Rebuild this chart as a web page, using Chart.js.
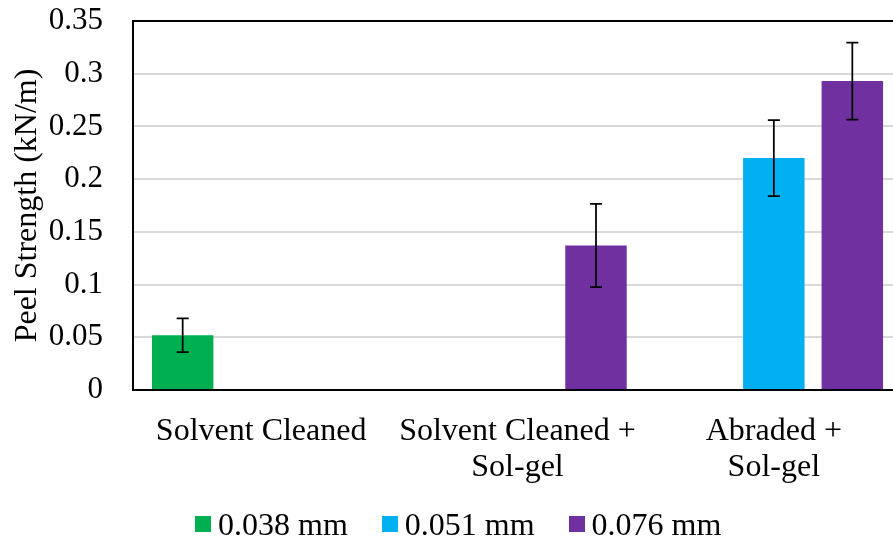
<!DOCTYPE html>
<html>
<head>
<meta charset="utf-8">
<script src="https://cdn.jsdelivr.net/npm/chart.js@4/dist/chart.umd.min.js"></script>
<style>
  html, body { margin: 0; padding: 0; background: #fff; overflow: hidden; width: 893px; height: 540px; }
  #wrap { position: absolute; left: 0; top: 0; width: 904px; height: 540px; }
  #legend {
    position: absolute; left: 195px; top: 508px; display: flex;
    font-family: "Liberation Serif", "Times New Roman", serif;
    font-size: 32px; line-height: 32px; color: #000; white-space: nowrap;
  }
  #legend .item { display: flex; align-items: center; margin-right: 34px; }
  #legend .sw { width: 16px; height: 16px; margin-right: 7px; }
</style>
</head>
<body>
<div id="wrap"><canvas id="c" width="904" height="540"></canvas></div>
<div id="legend"></div>
<script>
// Surface treatments (multi-line category labels)
const categories = [["Solvent Cleaned"], ["Solvent Cleaned +", "Sol-gel"], ["Abraded +", "Sol-gel"]];

// Adhesive thickness series
const seriesNames = ["0.038 mm", "0.051 mm", "0.076 mm"];
const seriesColors = ["#00B050", "#00B0F0", "#7030A0"];

// Mean peel strength (kN/m)
const peel038 = [0.052, null, null];
const peel051 = [null, null, 0.220];
const peel076 = [null, 0.137, 0.293];

// Standard deviation (kN/m)
const err038 = [0.016, null, null];
const err051 = [null, null, 0.036];
const err076 = [null, 0.0395, 0.0365];

// Value axis
const yTickValues = [0, 0.05, 0.1, 0.15, 0.2, 0.25, 0.3, 0.35];
const yTickLabels = ["0", "0.05", "0.1", "0.15", "0.2", "0.25", "0.3", "0.35"];

const FONT = '"Liberation Serif", "Times New Roman", serif';
const seriesValues = [peel038, peel051, peel076];
const seriesErrors = [err038, err051, err076];

const datasets = seriesNames.map((name, i) => ({
  label: name,
  data: seriesValues[i],
  errors: seriesErrors[i],
  backgroundColor: seriesColors[i],
  borderWidth: 0,
  categoryPercentage: 0.9187,
  barPercentage: 0.783
}));

// Plot frame drawn over the bars
const framePlugin = {
  id: 'frame',
  afterDatasetsDraw(chart) {
    const { ctx, chartArea: a } = chart;
    ctx.save();
    ctx.strokeStyle = '#000';
    ctx.lineWidth = 2;
    ctx.strokeRect(a.left, a.top, a.right - a.left, a.bottom - a.top);
    ctx.restore();
  }
};

// Symmetric error bars with caps
const errorBarPlugin = {
  id: 'errorBars',
  afterDatasetsDraw(chart) {
    const { ctx } = chart;
    const y = chart.scales.y;
    ctx.save();
    ctx.strokeStyle = '#000';
    ctx.lineWidth = 1.75;
    chart.data.datasets.forEach((ds, di) => {
      const meta = chart.getDatasetMeta(di);
      meta.data.forEach((bar, i) => {
        const v = ds.data[i], e = ds.errors[i];
        if (v == null || e == null) return;
        const x = bar.x;
        const yt = y.getPixelForValue(v + e);
        const yb = y.getPixelForValue(v - e);
        const cap = 6;
        ctx.beginPath();
        ctx.moveTo(x, yt); ctx.lineTo(x, yb);
        ctx.moveTo(x - cap, yt); ctx.lineTo(x + cap, yt);
        ctx.moveTo(x - cap, yb); ctx.lineTo(x + cap, yb);
        ctx.stroke();
      });
    });
    ctx.restore();
  }
};

const chart = new Chart(document.getElementById('c'), {
  type: 'bar',
  data: { labels: categories, datasets },
  plugins: [framePlugin, errorBarPlugin],
  options: {
    responsive: false,
    animation: false,
    layout: { padding: { left: 0, right: 2, top: 21, bottom: 0 } },
    plugins: { legend: { display: false }, tooltip: { enabled: false } },
    scales: {
      x: {
        grid: { display: false },
        border: { display: false },
        ticks: {
          color: '#000', padding: 15, maxRotation: 0, autoSkip: false,
          font: { family: FONT, size: 32, lineHeight: 1.14 }
        },
        afterFit(s) { s.height = 150; }
      },
      y: {
        min: 0, max: 0.35,
        afterBuildTicks(s) { s.ticks = yTickValues.map(v => ({ value: v })); },
        grid: {
          drawTicks: true,
          tickLength: 30,
          tickColor: 'rgba(0,0,0,0)',
          lineWidth: 2,
          color: (c) => (c.index === 0 || c.index === yTickValues.length - 1) ? 'rgba(0,0,0,0)' : '#d9d9d9'
        },
        border: { display: false },
        ticks: {
          color: '#000', padding: 0,
          font: { family: FONT, size: 31 },
          callback: (v, i) => yTickLabels[i]
        },
        title: {
          display: true, text: 'Peel Strength (kN/m)', color: '#000',
          font: { family: FONT, size: 32, lineHeight: 1.2 },
          padding: { top: 8, bottom: 0 }
        },
        afterFit(s) { s.width = 133; }
      }
    }
  }
});

// Legend built from the chart's datasets
const legend = document.getElementById('legend');
chart.data.datasets.forEach(ds => {
  const item = document.createElement('div');
  item.className = 'item';
  const sw = document.createElement('span');
  sw.className = 'sw';
  sw.style.background = ds.backgroundColor;
  const txt = document.createElement('span');
  txt.textContent = ds.label;
  item.appendChild(sw); item.appendChild(txt);
  legend.appendChild(item);
});
</script>
</body>
</html>
